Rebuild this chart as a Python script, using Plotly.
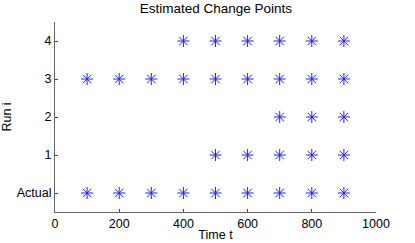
import plotly.graph_objects as go

run_labels = ["Actual", "1", "2", "3", "4"]
actual_t = [100, 200, 300, 400, 500, 600, 700, 800, 900]
run1_t = [500, 600, 700, 800, 900]
run2_t = [700, 800, 900]
run3_t = [100, 200, 300, 400, 500, 600, 700, 800, 900]
run4_t = [400, 500, 600, 700, 800, 900]
x_ticks = [0, 200, 400, 600, 800, 1000]

series = [actual_t, run1_t, run2_t, run3_t, run4_t]

xs, ys = [], []
for i, ts in enumerate(series):
    xs += ts
    ys += [i] * len(ts)

fig = go.Figure()
fig.add_trace(go.Scatter(
    x=xs, y=ys, mode="markers",
    marker=dict(symbol="asterisk-open", size=10, color="#2020ff",
                line=dict(color="#2020ff", width=1)),
    showlegend=False, hoverinfo="skip"))

font = dict(family="Liberation Sans, Arial, sans-serif", size=12.5, color="#000")
fig.update_layout(
    width=415, height=243,
    margin=dict(l=55, r=39, t=22, b=31),
    paper_bgcolor="white", plot_bgcolor="white",
    font=font,
    title=dict(text="Estimated Change Points", x=0.52, xanchor="center",
               y=0.967, yanchor="middle", font=dict(family=font["family"], size=13.5, color="#000")),
    xaxis=dict(range=[0, 1000], tickvals=x_ticks, ticktext=[str(v) for v in x_ticks],
               ticks="inside", ticklen=3, tickcolor="#444", showline=True, linecolor="#666",
               linewidth=1, showgrid=False, zeroline=False, automargin=False,
               title=dict(text="Time t", standoff=0, font=font)),
    yaxis=dict(range=[-0.5, 4.5], tickvals=list(range(len(run_labels))), ticktext=run_labels,
               ticks="inside", ticklen=3, tickcolor="#444", showline=True, linecolor="#666",
               linewidth=1, showgrid=False, zeroline=False, automargin=False,
               title=dict(text="Run i", standoff=7, font=font)),
)
fig.write_html("out.html", config={"displayModeBar": False},
               post_script="document.body.style.margin='0';")
